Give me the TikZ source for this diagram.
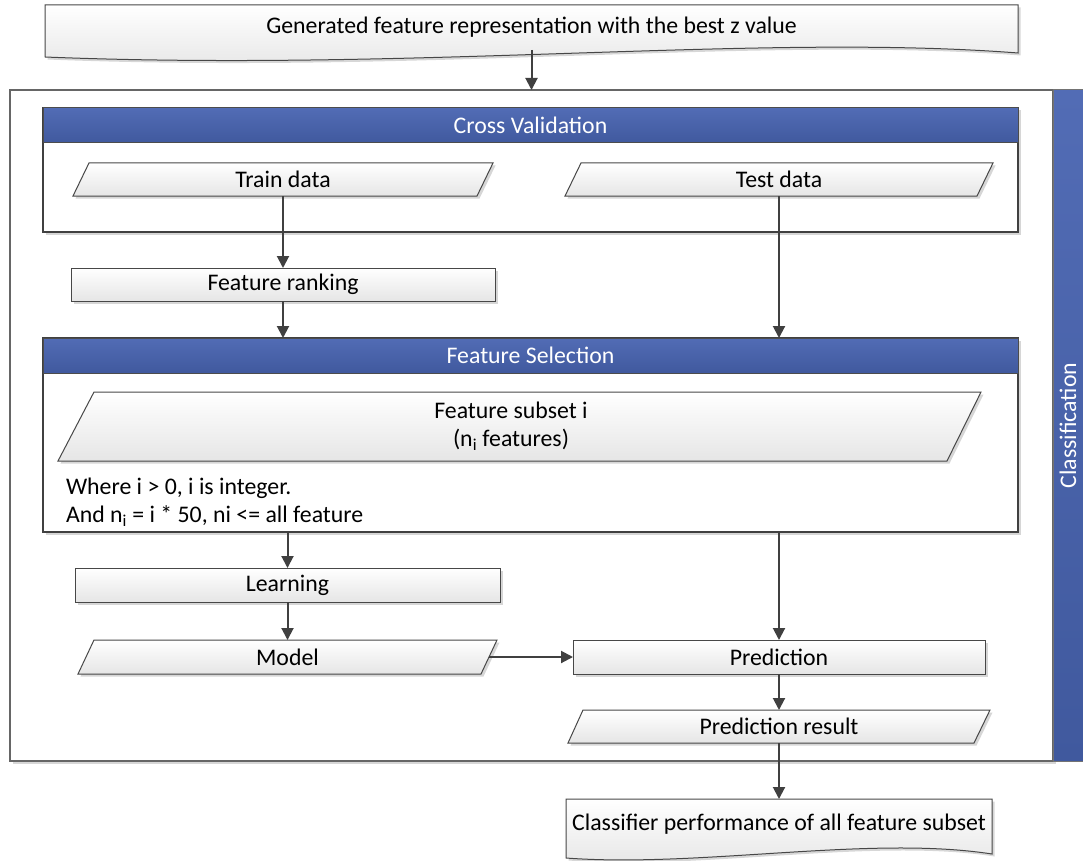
\documentclass[tikz,border=0pt]{standalone}
\usepackage{fontspec}
\setmainfont{Carlito}
\usetikzlibrary{arrows.meta,shadows,calc}
\definecolor{hdtop}{RGB}{82,108,181}
\definecolor{hdbot}{RGB}{64,89,158}
\definecolor{ln}{RGB}{64,64,64}
\tikzset{
  every node/.style={font=\fontsize{23.8}{28}\selectfont, inner sep=0pt, outer sep=0pt},
  shd/.style={drop shadow={shadow xshift=2.5pt,shadow yshift=-2.5pt,fill=black!35,opacity=0.45}},
  shapefill/.style={draw=black!72, line width=1pt, top color=white, bottom color=black!10, shd},
  procbox/.style={shapefill, rectangle},
  hdr/.style={draw=black!70, line width=1pt, top color=hdtop, bottom color=hdbot, text=white},
  cont/.style={draw=ln, line width=1.2pt, fill=white, shd},
  lbl/.style={draw=none, fill=none},
  arr/.style={draw=ln, line width=2pt, -{Triangle[length=12pt,width=12pt]}},
}
\begin{document}
\begin{tikzpicture}[x=1pt,y=-1pt]
\useasboundingbox (0,0) rectangle (1083,861);

% top document
\path[shapefill] (45,5) -- (1018,5) -- (1018,53) .. controls (760,33) and (420,72) .. (45,57) -- cycle;
\node[lbl, minimum width=973, minimum height=45] (gen) at (531.5,27.5) {Generated feature representation with the best z value};

% outer classification frame
\node[draw=black!60, line width=1.2pt, fill=white, minimum width=1043, minimum height=671, shd] (outer) at (531.5,425.5) {};
\node[draw=black!55, line width=1pt, top color=hdtop, bottom color=hdbot, minimum width=30, minimum height=671] (bar) at (1068,425.5) {};
\node[lbl, rotate=90, text=white] (clsf) at (bar.center) {Classification};

% cross validation
\node[cont, minimum width=975, minimum height=124] (cv) at (530.5,170) {};
\node[hdr, minimum width=975, minimum height=35] (cvh) at (530.5,125.5) {Cross Validation};

\path[shapefill] (89,163) -- (493,163) -- (477,196) -- (73,196) -- cycle;
\node[lbl, minimum width=404, minimum height=33] (train) at (283,179.5) {Train data};
\path[shapefill] (581,163) -- (993,163) -- (977,196) -- (565,196) -- cycle;
\node[lbl, minimum width=412, minimum height=33] (test) at (779,179.5) {Test data};

% feature ranking
\node[procbox, minimum width=424, minimum height=33] (fr) at (283,284.5) {Feature ranking};

% feature selection
\node[cont, minimum width=975, minimum height=194] (fs) at (530.5,435) {};
\node[hdr, minimum width=975, minimum height=35] (fsh) at (530.5,355.5) {Feature Selection};

\path[shapefill] (94,392) -- (981,392) -- (947,461) -- (58,461) -- cycle;
\node[lbl, minimum width=888, minimum height=69, align=center] (sub) at (511,426.5) {Feature subset i\\(n\textsubscript{i} features)};
\node[lbl, anchor=west, align=left] (cond) at (66,502) {Where i > 0, i is integer.\\And n\textsubscript{i} = i * 50, ni <= all feature};

% learning / model
\node[procbox, minimum width=425, minimum height=34] (learn) at (287.5,585) {Learning};
\path[shapefill] (94,640) -- (497,640) -- (481,674) -- (78,674) -- cycle;
\node[lbl, minimum width=403, minimum height=34] (model) at (287.5,657) {Model};

% prediction
\node[procbox, minimum width=412, minimum height=34] (pred) at (779,657) {Prediction};
\path[shapefill] (583,710) -- (990,710) -- (974,743) -- (568,743) -- cycle;
\node[lbl, minimum width=406, minimum height=33] (pres) at (779,726.5) {Prediction result};

% classifier performance document
\path[shapefill] (566,799) -- (992,799) -- (992,854) .. controls (870,835) and (700,868) .. (566,858) -- cycle;
\node[lbl, minimum width=426, minimum height=50] (cls) at (779,824) {Classifier performance of all feature subset};

% connectors
\draw[arr] (gen.south) -- (gen.south |- outer.north);
\draw[arr] (train.south) -- (fr.north);
\draw[arr] (fr.south) -- (fr.south |- fsh.north);
\draw[arr] (test.south) -- (test.south |- fsh.north);
\draw[arr] (learn.north |- fs.south) -- (learn.north);
\draw[arr] (learn.south) -- (model.north);
\draw[arr] (pred.north |- fs.south) -- (pred.north);
\draw[arr] (model.east) -- (pred.west);
\draw[arr] (pred.south) -- (pres.north);
\draw[arr] (pres.south) -- (cls.north);
\end{tikzpicture}
\end{document}
